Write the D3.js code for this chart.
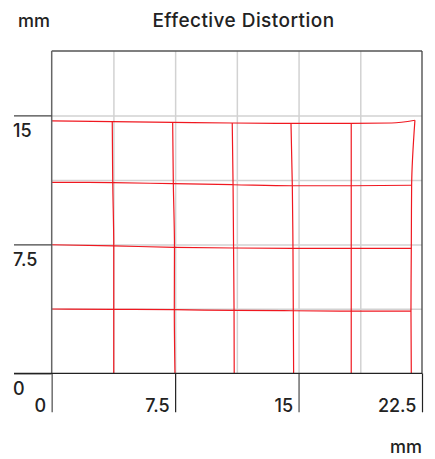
<!DOCTYPE html>
<html>
<head>
<meta charset="utf-8">
<script src="https://cdn.jsdelivr.net/npm/d3@7"></script>
<style>
  body { margin: 0; background: #fff; }
  text { font-family: Inter, "Liberation Sans", sans-serif; fill: #222; }
</style>
</head>
<body>
<div id="chart"></div>
<script>
// axis ticks (mm)
var xTicks = [0, 7.5, 15, 22.5];
var yTicks = [0, 7.5, 15];
var xGrid = [3.75, 7.5, 11.25, 15, 18.75];
var yGrid = [3.75, 7.5, 11.25, 15];

// measured node positions of the distorted grid, rows top -> bottom, columns left -> right
var nodeX = [
  [0, 3.68, 7.35, 10.97, 14.54, 18.20, 22.07],
  [0, 3.71, 7.39, 11.02, 14.62, 18.20, 21.87],
  [0, 3.77, 7.46, 11.05, 14.66, 18.20, 21.85],
  [0, 3.77, 7.45, 11.08, 14.68, 18.20, 21.83],
  [0, 3.77, 7.49, 11.09, 14.70, 18.20, 21.85]
];
var nodeY = [
  [14.68, 14.64, 14.60, 14.56, 14.54, 14.54, 14.72],
  [11.11, 11.09, 11.03, 10.97, 10.91, 10.91, 10.94],
  [7.48, 7.41, 7.33, 7.29, 7.27, 7.27, 7.27],
  [3.74, 3.72, 3.70, 3.66, 3.64, 3.62, 3.62],
  [0, 0, 0, 0, 0, 0, 0]
];
// extra point where the top edge bends up near the right corner
var topBend = [20.66, 14.56];

var width = 435, height = 459;
var mLeft = 51.7, mRight = 422, mTop = 51, mBottom = 373.3;

var svg = d3.select("#chart").append("svg")
    .attr("width", width)
    .attr("height", height);

var x = d3.scaleLinear().domain([0, 22.5]).range([mLeft, mRight]);
var y = d3.scaleLinear().domain([0, 18.75]).range([mBottom, mTop]);

// light grid
svg.append("g")
    .attr("transform", "translate(0," + mBottom + ")")
    .call(d3.axisBottom(x).tickValues(xGrid).tickSize(-(mBottom - mTop)).tickFormat(""))
    .call(g => g.select(".domain").remove())
    .call(g => g.selectAll("line").attr("stroke", "#d2d2d2").attr("stroke-width", 1.5));
svg.append("g")
    .attr("transform", "translate(" + mLeft + ",0)")
    .call(d3.axisLeft(y).tickValues(yGrid).tickSize(-(mRight - mLeft)).tickFormat(""))
    .call(g => g.select(".domain").remove())
    .call(g => g.selectAll("line").attr("stroke", "#d2d2d2").attr("stroke-width", 1.5));

// distorted grid
var rowLine = d3.line().x(d => x(d[0])).y(d => y(d[1])).curve(d3.curveMonotoneX);
var colLine = d3.line().x(d => x(d[0])).y(d => y(d[1])).curve(d3.curveMonotoneY);
var rows = nodeX.map((r, i) => r.map((v, j) => [v, nodeY[i][j]]));
rows[0].splice(6, 0, topBend);
var cols = nodeX[0].map((v, j) => nodeX.map((r, i) => [r[j], nodeY[i][j]]));

var red = svg.append("g")
    .attr("fill", "none")
    .attr("stroke", "#f01820")
    .attr("stroke-width", 1.2);
red.selectAll(".row").data(rows.slice(0, 4)).join("path").attr("class", "row").attr("d", rowLine);
red.selectAll(".col").data(cols.slice(1)).join("path").attr("class", "col").attr("d", colLine);

// frame
svg.append("line").attr("x1", mLeft).attr("x2", mRight).attr("y1", mTop).attr("y2", mTop)
    .attr("stroke", "#555").attr("stroke-width", 1.3);
svg.append("line").attr("x1", mRight).attr("x2", mRight).attr("y1", mTop).attr("y2", mBottom)
    .attr("stroke", "#444").attr("stroke-width", 1.3);
svg.append("line").attr("x1", mLeft).attr("x2", mLeft).attr("y1", mTop).attr("y2", mBottom)
    .attr("stroke", "#666").attr("stroke-width", 1.5);

// x axis
svg.append("g")
    .attr("transform", "translate(0," + mBottom + ")")
    .call(d3.axisBottom(x).tickValues(xTicks).tickSize(39).tickFormat(d => d))
    .call(g => g.select(".domain").remove())
    .call(g => g.selectAll("line")
        .attr("stroke", (d, i) => i % 2 === 0 && i < 3 ? "#777" : "#222")
        .attr("stroke-width", (d, i) => i % 2 === 0 && i < 3 ? 1.6 : 1.2))
    .call(g => g.selectAll("text")
        .attr("x", -6).attr("y", 39).attr("dy", 0)
        .attr("text-anchor", "end")
        .style("font-size", "18px").style("font-weight", 500).style("font-family", null));

// y axis
svg.append("g")
    .attr("transform", "translate(" + mLeft + ",0)")
    .call(d3.axisLeft(y).tickValues(yTicks).tickSize(mLeft - 14).tickFormat(d => d))
    .call(g => g.select(".domain").remove())
    .call(g => g.selectAll("line").attr("stroke", "#444").attr("stroke-width", 1.3))
    .call(g => g.selectAll("text")
        .attr("x", 13 - mLeft).attr("y", 21.5).attr("dy", 0)
        .attr("text-anchor", "start")
        .style("font-size", "18px").style("font-weight", 500).style("font-family", null));

svg.append("line").attr("x1", 14).attr("x2", mRight).attr("y1", mBottom).attr("y2", mBottom)
    .attr("stroke", "#222").attr("stroke-width", 1.3);

// titles
svg.append("text").attr("x", 243.5).attr("y", 27).attr("text-anchor", "middle")
    .style("font-size", "19px").style("font-weight", 500).style("letter-spacing", "0.45px")
    .text("Effective Distortion");
svg.append("text").attr("x", 18).attr("y", 27)
    .style("font-size", "18px").style("font-weight", 500).text("mm");
svg.append("text").attr("x", 422).attr("y", 453).attr("text-anchor", "end")
    .style("font-size", "18px").style("font-weight", 500).text("mm");
</script>
</body>
</html>
